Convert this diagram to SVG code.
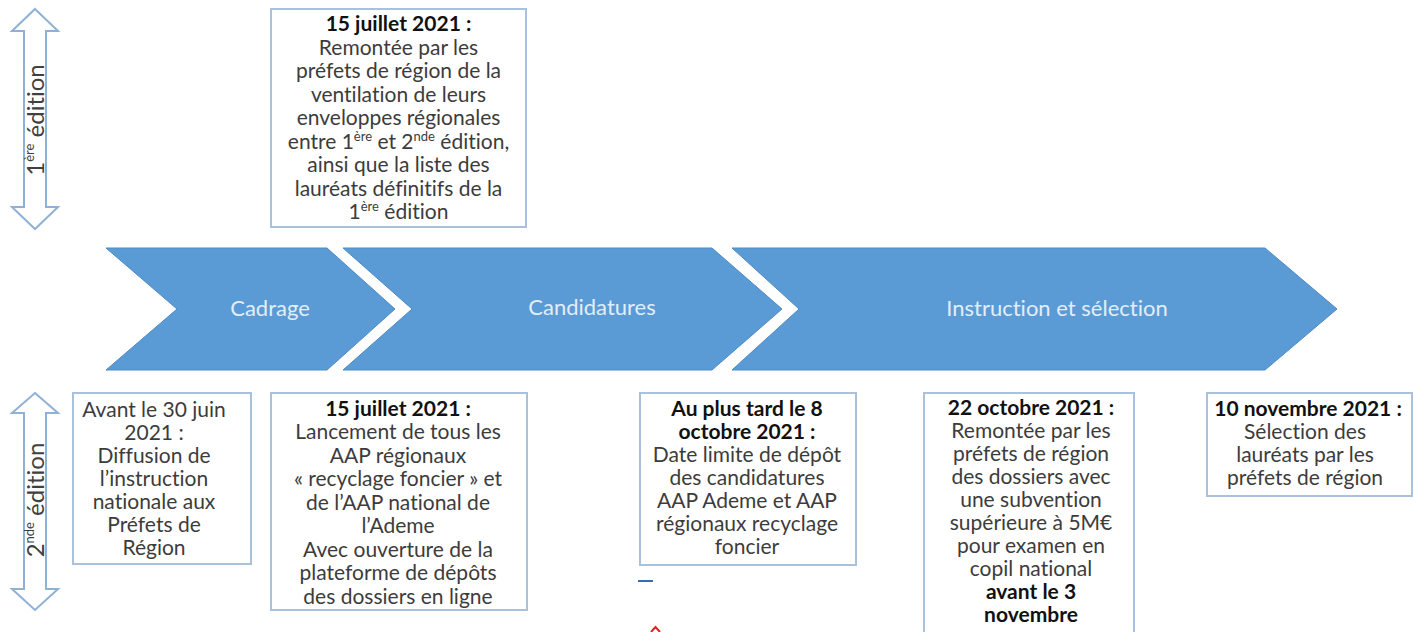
<svg xmlns="http://www.w3.org/2000/svg" width="1414" height="632" viewBox="0 0 1414 632">
<defs>
<style>
text{font-variant-ligatures:none;font-feature-settings:"liga" 0}
.bg{fill:#ffffff}
.box{fill:#ffffff;stroke:#a9c1dc;stroke-width:2}
.chev{fill:#5b9bd5;stroke:#4f8bc4;stroke-width:1}
.dbl{fill:#ffffff;stroke:#8fb1d6;stroke-width:2}
.t{font-family:Lato,"Liberation Sans",sans-serif;font-size:21px;fill:#3c3c3c;text-anchor:middle}
.b{font-weight:bold;fill:#111111}
.ct{font-family:Lato,"Liberation Sans",sans-serif;font-size:22px;fill:#e2edf8;text-anchor:middle}
.rt{font-family:Lato,"Liberation Sans",sans-serif;font-size:24px;fill:#404040;text-anchor:middle}
.sup{font-size:13px}
</style>
</defs>
<rect class="bg" x="0" y="0" width="1414" height="632"/>

<g id="edition1">
<path class="dbl" d="M35,9 L58,31 L46,31 L46,207 L58,207 L35,229 L12,207 L24,207 L24,31 L12,31 Z"/>
<text class="rt" transform="translate(44,120) rotate(-90)">1<tspan class="sup" dy="-10">ère</tspan><tspan dy="10"> édition</tspan></text>
</g>

<g id="edition2">
<path class="dbl" d="M35,393 L58,413 L46,413 L46,589 L58,589 L35,610 L12,589 L24,589 L24,413 L12,413 Z"/>
<text class="rt" transform="translate(44,500) rotate(-90)">2<tspan class="sup" dy="-10">nde</tspan><tspan dy="10"> édition</tspan></text>
</g>

<g id="top-box">
<rect class="box" x="271" y="9" width="255" height="218"/>
<text class="t" x="398.5" y="31"><tspan class="b">15 juillet 2021 :</tspan></text>
<text class="t" x="398.5" y="54.5">Remontée par les</text>
<text class="t" x="398.5" y="78">préfets de région de la</text>
<text class="t" x="398.5" y="101.5">ventilation de leurs</text>
<text class="t" x="398.5" y="125">enveloppes régionales</text>
<text class="t" x="398.5" y="148.5">entre 1<tspan class="sup" dy="-8">ère</tspan><tspan dy="8"> et 2</tspan><tspan class="sup" dy="-8">nde</tspan><tspan dy="8"> édition,</tspan></text>
<text class="t" x="398.5" y="172">ainsi que la liste des</text>
<text class="t" x="398.5" y="195.5">lauréats définitifs de la</text>
<text class="t" x="398.5" y="219">1<tspan class="sup" dy="-8">ère</tspan><tspan dy="8"> édition</tspan></text>
</g>

<g id="chevron-cadrage">
<path class="chev" d="M106,248 L327,248 L395,309 L327,370 L106,370 L177,309 Z"/>
<text class="ct" x="270" y="316">Cadrage</text>
</g>
<g id="chevron-candidatures">
<path class="chev" d="M343,248 L712,248 L782,309 L712,370 L343,370 L412,309 Z"/>
<text class="ct" x="592" y="315">Candidatures</text>
</g>
<g id="chevron-instruction">
<path class="chev" d="M732,248 L1265,248 L1337,309 L1265,370 L732,370 L799,309 Z"/>
<text class="ct" x="1057" y="316">Instruction et sélection</text>
</g>

<g id="box-juin">
<rect class="box" x="73" y="393" width="178" height="171"/>
<text class="t" x="154" y="417">Avant le 30 juin</text>
<text class="t" x="154" y="440">2021 :</text>
<text class="t" x="154" y="463">Diffusion de</text>
<text class="t" x="154" y="486">l’instruction</text>
<text class="t" x="154" y="509">nationale aux</text>
<text class="t" x="154" y="532">Préfets de</text>
<text class="t" x="154" y="555">Région</text>
</g>

<g id="box-juillet">
<rect class="box" x="271" y="393" width="256" height="217"/>
<text class="t" x="398" y="415.5"><tspan class="b">15 juillet 2021 :</tspan></text>
<text class="t" x="398" y="439">Lancement de tous les</text>
<text class="t" x="398" y="462.5">AAP régionaux</text>
<text class="t" x="398" y="486">« recyclage foncier » et</text>
<text class="t" x="398" y="509.5">de l’AAP national de</text>
<text class="t" x="398" y="533">l’Ademe</text>
<text class="t" x="398" y="556.5">Avec ouverture de la</text>
<text class="t" x="398" y="580">plateforme de dépôts</text>
<text class="t" x="398" y="603.5">des dossiers en ligne</text>
</g>

<g id="box-octobre">
<rect class="box" x="640" y="393" width="216" height="172"/>
<text class="t" x="747" y="416"><tspan class="b">Au plus tard le 8</tspan></text>
<text class="t" x="747" y="439"><tspan class="b">octobre 2021 :</tspan></text>
<text class="t" x="747" y="462">Date limite de dépôt</text>
<text class="t" x="747" y="485">des candidatures</text>
<text class="t" x="747" y="508">AAP Ademe et AAP</text>
<text class="t" x="747" y="531">régionaux recyclage</text>
<text class="t" x="747" y="554">foncier</text>
</g>
<rect x="638" y="580" width="15" height="2" fill="#2f6fb5"/>
<path d="M651,632 L655.5,627 L660,632" fill="none" stroke="#e02020" stroke-width="2"/>

<g id="box-22-octobre">
<rect class="box" x="924" y="393" width="210" height="250"/>
<text class="t" x="1031" y="415"><tspan class="b">22 octobre 2021 :</tspan></text>
<text class="t" x="1031" y="438">Remontée par les</text>
<text class="t" x="1031" y="461">préfets de région</text>
<text class="t" x="1031" y="484">des dossiers avec</text>
<text class="t" x="1031" y="507">une subvention</text>
<text class="t" x="1031" y="530">supérieure à 5M€</text>
<text class="t" x="1031" y="553">pour examen en</text>
<text class="t" x="1031" y="576">copil national</text>
<text class="t" x="1031" y="599"><tspan class="b">avant le 3</tspan></text>
<text class="t" x="1031" y="622"><tspan class="b">novembre</tspan></text>
</g>

<g id="box-novembre">
<rect class="box" x="1207" y="393" width="205" height="103"/>
<text class="t" x="1308" y="416"><tspan class="b">10 novembre 2021 :</tspan></text>
<text class="t" x="1305" y="439">Sélection des</text>
<text class="t" x="1305" y="462">lauréats par les</text>
<text class="t" x="1305" y="485">préfets de région</text>
</g>

<g id="connectors"></g>
</svg>
